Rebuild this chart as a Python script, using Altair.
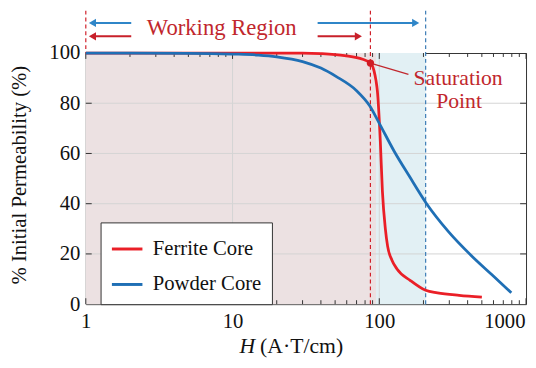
import altair as alt
import pandas as pd

# ---------------- data ----------------
series_names = ["Ferrite Core", "Powder Core"]
series_colors = ["#ea1f27", "#1f6fb5"]

ferrite_h = [1, 10, 30, 40, 58, 77, 87, 92, 95, 97, 101.6, 105, 110, 114, 122, 132, 163, 207, 249, 350, 500]
ferrite_p = [100, 100, 100, 99.8, 99, 97.5, 96, 93, 89, 85, 65, 45, 30, 23, 17.5, 14, 9.4, 5.5, 4.5, 3.5, 2.8]

powder_h = [1, 5, 10, 15, 20, 30, 40, 51, 70, 86, 100, 126, 160, 210, 295, 421, 591, 794]
powder_p = [100, 99.9, 99.6, 99.2, 98.5, 96.6, 94, 90.6, 85, 79, 72, 61, 51, 40, 29, 19.5, 11.5, 4.5]

x_major = [1, 10, 100, 1000]
x_minor = [2, 3, 4, 5, 6, 7, 8, 9, 20, 30, 40, 50, 60, 70, 80, 90, 200, 300, 400, 500, 600, 700, 800, 900]
y_ticks = [0, 20, 40, 60, 80, 100]
x_grid = [10, 100]
y_grid = [20, 40, 60, 80]

saturation_h = 87
saturation_p = 96
powder_limit_h = 207
leader_end = (158, 91.5)
ferrite_region = (1, 95)
powder_region = (95, 207)

arrow_left_h = 1.11
arrow_left_end_h = 2.04
arrow_right_start_h = 38
ferrite_arrow_tip_h = 72
powder_arrow_tip_h = 177

FONT = "Liberation Serif, Times New Roman, DejaVu Serif, serif"
TXT_RED = "#c1272d"
W, H = 447, 255

# ---------------- helpers ----------------
xscale = alt.Scale(type="log", domain=[1, 1000], nice=False)
yscale = alt.Scale(domain=[0, 100], nice=False, zero=False)
xaxis = alt.Axis(values=x_major, format="d", tickSize=0, domain=False, grid=False,
                 labelFont=FONT, labelFontSize=21, labelColor="#111", labelPadding=7,
                 labelFlush=False, labelOverlap=False, title=None,
                 labelOffset=alt.ExprRef(expr="datum.value >= 1000 ? -22 : 0"))
yaxis = alt.Axis(values=y_ticks, tickSize=0, domain=False, grid=False,
                 labelFont=FONT, labelFontSize=21, labelColor="#111", labelPadding=6,
                 labelOverlap=False, title=None)


def X(f):
    return alt.X(f, type="quantitative", scale=xscale, axis=xaxis)


def Y(f):
    return alt.Y(f, type="quantitative", scale=yscale, axis=yaxis)


# ---------------- layers ----------------
regions = pd.DataFrame({"a": [ferrite_region[0], powder_region[0]],
                        "b": [ferrite_region[1], powder_region[1]],
                        "c": ["#ece1e2", "#e2f0f4"]})
region_layer = alt.Chart(regions).mark_rect().encode(
    x=X("a"), x2="b", y=alt.value(0), y2=alt.value(H),
    color=alt.Color("c:N", scale=None))

vgrid = alt.Chart(pd.DataFrame({"g": x_grid})).mark_rule(color="#d4d4d4", strokeWidth=1).encode(
    x=X("g"), y=alt.value(0), y2=alt.value(H))
hgrid = alt.Chart(pd.DataFrame({"g": y_grid})).mark_rule(color="#d4d4d4", strokeWidth=1).encode(
    y=Y("g"), x=alt.value(0), x2=alt.value(W))

tick_layers = []
for vals, ln in [(x_major, 6), (x_minor, 4)]:
    d = pd.DataFrame({"t": vals})
    tick_layers.append(alt.Chart(d).mark_rule(color="#333", strokeWidth=1).encode(
        x=X("t"), y=alt.value(H), y2=alt.value(H - ln)))
    tick_layers.append(alt.Chart(d).mark_rule(color="#333", strokeWidth=1).encode(
        x=X("t"), y=alt.value(0), y2=alt.value(ln)))
yt = pd.DataFrame({"t": y_ticks[1:-1]})
tick_layers.append(alt.Chart(yt).mark_rule(color="#333", strokeWidth=1).encode(
    y=Y("t"), x=alt.value(0), x2=alt.value(6)))
tick_layers.append(alt.Chart(yt).mark_rule(color="#333", strokeWidth=1).encode(
    y=Y("t"), x=alt.value(W), x2=alt.value(W - 6)))

dash_red = alt.Chart(pd.DataFrame({"h": [saturation_h]})).mark_rule(
    color="#d0202a", strokeDash=[4, 3], strokeWidth=1.2).encode(
    x=X("h"), y=alt.value(-43), y2=alt.value(H))
dash_red_left = alt.Chart(pd.DataFrame({"h": [1]})).mark_rule(
    color="#d0202a", strokeDash=[4, 3], strokeWidth=1.2).encode(
    x=X("h"), y=alt.value(-43), y2=alt.value(0))
dash_blue = alt.Chart(pd.DataFrame({"h": [powder_limit_h]})).mark_rule(
    color="#3a7bb5", strokeDash=[4, 3], strokeWidth=1.2).encode(
    x=X("h"), y=alt.value(-43), y2=alt.value(H))

curves = pd.concat([
    pd.DataFrame({"H": ferrite_h, "P": ferrite_p, "core": series_names[0], "o": range(len(ferrite_h))}),
    pd.DataFrame({"H": powder_h, "P": powder_p, "core": series_names[1], "o": range(len(powder_h))}),
])
lines = alt.Chart(curves).mark_line(strokeWidth=2.8, interpolate="monotone").encode(
    x=X("H"), y=Y("P"), order="o:Q",
    color=alt.Color("core:N", scale=alt.Scale(domain=series_names, range=series_colors),
                    legend=alt.Legend(title=None, orient="none", legendX=15, legendY=172,
                                      fillColor="white", strokeColor="#333", padding=10,
                                      labelFont=FONT, labelFontSize=21, labelColor="#111",
                                      symbolType="stroke", symbolSize=961, symbolStrokeWidth=3,
                                      labelOffset=9, rowPadding=9, cornerRadius=0)))

leader = alt.Chart(pd.DataFrame({"a": [saturation_h], "b": [leader_end[0]],
                                 "p": [saturation_p], "q": [leader_end[1]]})).mark_rule(
    color="#c1272d", strokeWidth=1.2).encode(x=X("a"), x2="b", y=Y("p"), y2="q")
sat_pt = alt.Chart(pd.DataFrame({"h": [saturation_h], "p": [saturation_p]})).mark_point(
    filled=True, color="#d01c24", size=55, opacity=1).encode(x=X("h"), y=Y("p"))

arrow_layers = []
for col, ypix, tip in [("#2f86c8", -30.5, powder_arrow_tip_h), ("#c8202a", -17, ferrite_arrow_tip_h)]:
    seg = pd.DataFrame({"a": [arrow_left_h, arrow_right_start_h], "b": [arrow_left_end_h, tip]})
    arrow_layers.append(alt.Chart(seg).mark_rule(color=col, strokeWidth=2).encode(
        x=X("a"), x2="b", y=alt.value(ypix)))
    arrow_layers.append(alt.Chart(pd.DataFrame({"h": [arrow_left_h]})).mark_point(
        shape="triangle-left", filled=True, color=col, size=70, opacity=1).encode(
        x=X("h"), y=alt.value(ypix)))
    arrow_layers.append(alt.Chart(pd.DataFrame({"h": [tip]})).mark_point(
        shape="triangle-right", filled=True, color=col, size=70, opacity=1).encode(
        x=X("h"), y=alt.value(ypix)))


def txt(s, x, y, size=21, color="#111", align="center", baseline="middle", style="normal", angle=0):
    kw = dict(text=s, font=FONT, fontSize=size, color=color, align=align,
              baseline=baseline, fontStyle=style)
    if angle:
        kw["angle"] = angle
    return alt.Chart(pd.DataFrame({"k": [0]})).mark_text(**kw).encode(
        x=alt.value(x), y=alt.value(y))


texts = [
    txt("Working Region", 138, -25, size=23, color=TXT_RED),
    txt("Saturation", 378, 32, size=22, color=TXT_RED, baseline="alphabetic"),
    txt("Point", 379, 56, size=22, color=TXT_RED, baseline="alphabetic"),
    txt("% Initial Permeability (%)", -67, 124, size=21, angle=270),
    txt("H", 164, 298, size=22, style="italic"),
    txt("(A·T/cm)", 177, 298, size=22, align="left"),
]

chart = alt.layer(
    region_layer, vgrid, hgrid, *tick_layers, dash_red, dash_red_left, dash_blue,
    lines, leader, sat_pt, *arrow_layers, *texts
).properties(
    width=W, height=H,
    autosize=alt.AutoSizeParams(type="none"),
    padding={"left": 79, "top": 43, "right": 2, "bottom": 54},
    background="white",
).configure_view(stroke="#333", strokeWidth=1)

chart.save("out.html", embed_options={"renderer": "svg", "actions": False})
